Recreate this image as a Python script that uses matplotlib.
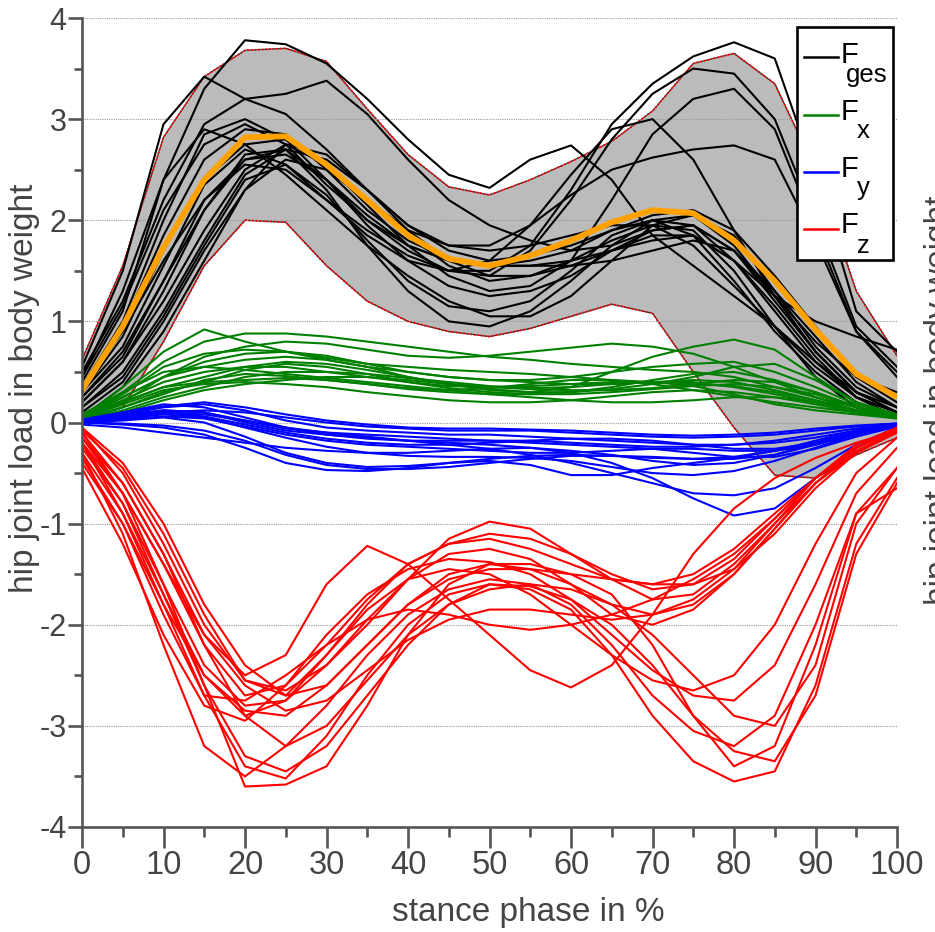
import numpy as np
import matplotlib
matplotlib.use("Agg")
import matplotlib.pyplot as plt
from matplotlib.ticker import MultipleLocator
from matplotlib.lines import Line2D
from matplotlib.patches import Rectangle

plt.rcParams['font.family'] = ['Liberation Sans', 'DejaVu Sans']

# ---------------- data (stance phase in %, every 5 %) ----------------
stance = [0, 5, 10, 15, 20, 25, 30, 35, 40, 45, 50, 55, 60, 65, 70, 75, 80, 85, 90, 95, 100]

mean_ges = [0.32, 0.95, 1.73, 2.40, 2.82, 2.83, 2.55, 2.20, 1.85, 1.62, 1.55, 1.65, 1.80, 1.98, 2.10, 2.07, 1.80, 1.40, 0.92, 0.48, 0.25]
band_upper = [0.62, 1.55, 2.82, 3.42, 3.68, 3.70, 3.57, 3.10, 2.65, 2.33, 2.25, 2.40, 2.58, 2.78, 3.08, 3.55, 3.65, 3.35, 2.50, 1.30, 0.66]
band_lower = [0.02, 0.15, 0.80, 1.55, 2.00, 1.98, 1.55, 1.20, 1.00, 0.90, 0.85, 0.93, 1.05, 1.17, 1.08, 0.50, -0.05, -0.52, -0.55, -0.32, -0.15]

f_ges = [
    [0.55, 1.50, 2.95, 3.42, 3.20, 3.25, 3.38, 3.05, 2.60, 2.20, 1.95, 1.80, 1.70, 1.75, 1.90, 1.95, 1.70, 1.25, 0.80, 0.45, 0.30],
    [0.40, 1.10, 2.40, 3.30, 3.78, 3.74, 3.55, 3.20, 2.80, 2.45, 2.32, 2.60, 2.74, 2.40, 1.85, 1.55, 1.25, 0.95, 0.60, 0.30, 0.15],
    [0.35, 0.90, 1.60, 2.20, 2.55, 2.50, 2.20, 1.90, 1.65, 1.50, 1.50, 1.75, 2.30, 2.95, 3.35, 3.62, 3.76, 3.60, 2.45, 1.10, 0.70],
    [0.25, 0.70, 1.40, 2.10, 2.60, 2.70, 2.40, 2.00, 1.70, 1.50, 1.45, 1.70, 2.20, 2.80, 3.25, 3.50, 3.45, 3.00, 2.00, 0.95, 0.55],
    [0.20, 0.60, 1.20, 1.90, 2.50, 2.75, 2.55, 2.15, 1.75, 1.45, 1.30, 1.35, 1.60, 2.20, 2.85, 3.20, 3.30, 2.90, 1.90, 0.90, 0.50],
    [0.30, 0.85, 1.70, 2.40, 2.75, 2.80, 2.55, 2.20, 1.90, 1.75, 1.75, 1.95, 2.25, 2.50, 2.62, 2.70, 2.74, 2.60, 1.80, 0.90, 0.45],
    [0.15, 0.50, 1.10, 1.80, 2.45, 2.70, 2.60, 2.30, 1.95, 1.70, 1.60, 1.65, 1.75, 1.90, 2.00, 1.95, 1.60, 1.10, 0.60, 0.25, 0.10],
    [0.10, 0.40, 1.00, 1.70, 2.30, 2.60, 2.50, 2.20, 1.85, 1.55, 1.40, 1.45, 1.60, 1.80, 1.95, 1.90, 1.50, 0.95, 0.45, 0.15, 0.05],
    [0.35, 1.00, 2.00, 2.85, 3.00, 2.80, 2.40, 1.95, 1.60, 1.35, 1.25, 1.30, 1.45, 1.70, 1.90, 1.95, 1.70, 1.20, 0.70, 0.30, 0.10],
    [0.45, 1.30, 2.40, 2.90, 2.75, 2.45, 2.10, 1.75, 1.45, 1.20, 1.05, 1.05, 1.25, 1.60, 1.95, 2.05, 1.85, 1.30, 0.75, 0.35, 0.15],
    [0.20, 0.60, 1.30, 2.10, 2.65, 2.70, 2.30, 1.75, 1.30, 1.00, 0.95, 1.10, 1.40, 1.75, 2.00, 2.05, 1.75, 1.25, 0.70, 0.30, 0.10],
    [0.05, 0.35, 0.90, 1.60, 2.30, 2.75, 2.65, 2.30, 1.90, 1.60, 1.45, 1.45, 1.55, 1.70, 1.85, 1.85, 1.60, 1.15, 0.65, 0.25, 0.05],
    [0.50, 1.20, 2.20, 2.95, 3.20, 3.05, 2.70, 2.30, 1.95, 1.75, 1.70, 1.75, 1.85, 1.95, 1.95, 1.75, 1.35, 0.95, 0.55, 0.25, 0.10],
    [0.30, 0.75, 1.55, 2.35, 2.70, 2.55, 2.20, 1.85, 1.60, 1.50, 1.60, 1.95, 2.45, 2.90, 3.00, 2.60, 1.90, 1.25, 0.70, 0.30, 0.10],
    [0.25, 0.65, 1.40, 2.20, 2.60, 2.65, 2.40, 2.05, 1.75, 1.60, 1.55, 1.55, 1.55, 1.60, 1.70, 1.80, 1.70, 1.30, 0.85, 0.40, 0.15],
    [0.15, 0.45, 1.05, 1.75, 2.40, 2.55, 2.25, 1.80, 1.40, 1.15, 1.10, 1.20, 1.50, 1.85, 2.00, 1.85, 1.40, 0.90, 0.50, 0.20, 0.05],
    [0.45, 1.15, 2.10, 2.75, 2.95, 2.75, 2.35, 2.00, 1.75, 1.60, 1.55, 1.55, 1.60, 1.70, 1.80, 1.85, 1.60, 1.25, 1.00, 0.85, 0.72],
    [0.35, 0.95, 1.85, 2.60, 2.90, 2.85, 2.50, 2.10, 1.80, 1.62, 1.55, 1.60, 1.70, 1.90, 2.05, 2.10, 1.90, 1.45, 0.95, 0.45, 0.20],
]

f_x = [
    [0.05, 0.35, 0.70, 0.92, 0.80, 0.70, 0.62, 0.55, 0.50, 0.45, 0.42, 0.40, 0.38, 0.38, 0.40, 0.42, 0.40, 0.32, 0.22, 0.12, 0.05],
    [0.05, 0.30, 0.60, 0.80, 0.88, 0.88, 0.85, 0.80, 0.75, 0.70, 0.65, 0.62, 0.58, 0.55, 0.52, 0.50, 0.45, 0.35, 0.25, 0.15, 0.08],
    [0.02, 0.20, 0.45, 0.65, 0.75, 0.80, 0.78, 0.72, 0.66, 0.64, 0.66, 0.70, 0.74, 0.78, 0.75, 0.68, 0.55, 0.40, 0.25, 0.12, 0.05],
    [0.05, 0.25, 0.45, 0.55, 0.62, 0.65, 0.62, 0.55, 0.45, 0.38, 0.33, 0.30, 0.35, 0.50, 0.65, 0.75, 0.82, 0.72, 0.45, 0.20, 0.08],
    [0.03, 0.20, 0.35, 0.45, 0.55, 0.60, 0.58, 0.52, 0.45, 0.38, 0.32, 0.30, 0.30, 0.33, 0.38, 0.45, 0.55, 0.58, 0.42, 0.20, 0.08],
    [0.08, 0.30, 0.50, 0.55, 0.52, 0.48, 0.44, 0.40, 0.36, 0.32, 0.28, 0.25, 0.22, 0.20, 0.20, 0.22, 0.25, 0.25, 0.20, 0.12, 0.05],
    [0.02, 0.12, 0.25, 0.35, 0.45, 0.50, 0.50, 0.48, 0.44, 0.40, 0.36, 0.34, 0.35, 0.38, 0.40, 0.40, 0.35, 0.28, 0.20, 0.12, 0.06],
    [0.05, 0.20, 0.35, 0.40, 0.42, 0.44, 0.42, 0.38, 0.33, 0.30, 0.28, 0.28, 0.30, 0.35, 0.42, 0.48, 0.50, 0.42, 0.30, 0.15, 0.06],
    [0.02, 0.15, 0.30, 0.40, 0.52, 0.58, 0.55, 0.48, 0.40, 0.34, 0.30, 0.28, 0.28, 0.30, 0.33, 0.36, 0.38, 0.35, 0.28, 0.15, 0.06],
    [0.04, 0.18, 0.32, 0.38, 0.40, 0.38, 0.35, 0.30, 0.26, 0.22, 0.20, 0.20, 0.22, 0.26, 0.30, 0.32, 0.30, 0.25, 0.18, 0.10, 0.04],
    [0.06, 0.25, 0.45, 0.60, 0.68, 0.70, 0.66, 0.58, 0.50, 0.45, 0.42, 0.42, 0.45, 0.50, 0.55, 0.58, 0.60, 0.50, 0.35, 0.18, 0.08],
    [0.03, 0.15, 0.28, 0.42, 0.48, 0.46, 0.42, 0.38, 0.34, 0.32, 0.34, 0.38, 0.42, 0.42, 0.38, 0.32, 0.26, 0.20, 0.15, 0.10, 0.05],
    [0.05, 0.22, 0.40, 0.50, 0.55, 0.55, 0.50, 0.45, 0.40, 0.36, 0.35, 0.36, 0.38, 0.40, 0.40, 0.36, 0.28, 0.18, 0.12, 0.08, 0.04],
    [0.02, 0.10, 0.22, 0.32, 0.38, 0.42, 0.45, 0.45, 0.42, 0.38, 0.35, 0.33, 0.32, 0.32, 0.34, 0.38, 0.42, 0.40, 0.30, 0.16, 0.06],
    [0.04, 0.28, 0.55, 0.68, 0.72, 0.70, 0.64, 0.58, 0.55, 0.52, 0.50, 0.48, 0.45, 0.42, 0.40, 0.38, 0.36, 0.30, 0.22, 0.12, 0.05],
]

f_y = [
    [0.02, 0.08, 0.12, 0.10, 0.00, -0.08, -0.12, -0.15, -0.18, -0.20, -0.22, -0.25, -0.30, -0.40, -0.55, -0.75, -0.92, -0.85, -0.55, -0.25, -0.05],
    [0.00, 0.05, 0.10, 0.08, 0.02, -0.05, -0.10, -0.14, -0.18, -0.22, -0.26, -0.32, -0.40, -0.50, -0.60, -0.70, -0.72, -0.65, -0.45, -0.22, -0.05],
    [0.00, -0.02, -0.05, -0.12, -0.25, -0.40, -0.47, -0.48, -0.45, -0.40, -0.38, -0.42, -0.52, -0.52, -0.45, -0.40, -0.35, -0.28, -0.20, -0.10, -0.02],
    [0.03, 0.10, 0.18, 0.15, 0.05, -0.05, -0.12, -0.16, -0.18, -0.18, -0.18, -0.18, -0.20, -0.22, -0.24, -0.24, -0.22, -0.18, -0.12, -0.06, -0.02],
    [0.02, 0.08, 0.15, 0.18, 0.12, 0.02, -0.05, -0.08, -0.10, -0.12, -0.12, -0.14, -0.16, -0.18, -0.20, -0.22, -0.22, -0.20, -0.15, -0.08, -0.02],
    [0.00, 0.02, 0.05, 0.00, -0.14, -0.30, -0.40, -0.44, -0.43, -0.40, -0.36, -0.33, -0.32, -0.33, -0.35, -0.36, -0.34, -0.28, -0.18, -0.08, -0.02],
    [0.01, 0.05, 0.10, 0.12, 0.10, 0.05, 0.00, -0.04, -0.06, -0.08, -0.08, -0.08, -0.10, -0.12, -0.14, -0.15, -0.14, -0.12, -0.08, -0.04, -0.01],
    [-0.02, -0.05, -0.10, -0.15, -0.20, -0.25, -0.28, -0.30, -0.30, -0.28, -0.26, -0.25, -0.28, -0.32, -0.38, -0.42, -0.40, -0.32, -0.20, -0.10, -0.03],
    [0.02, 0.06, 0.10, 0.06, -0.02, -0.10, -0.16, -0.20, -0.22, -0.22, -0.20, -0.18, -0.16, -0.16, -0.18, -0.22, -0.26, -0.26, -0.20, -0.10, -0.03],
    [0.00, 0.04, 0.08, 0.05, -0.05, -0.15, -0.24, -0.30, -0.33, -0.34, -0.34, -0.35, -0.38, -0.44, -0.50, -0.52, -0.48, -0.38, -0.25, -0.12, -0.03],
    [0.02, 0.10, 0.16, 0.20, 0.15, 0.08, 0.02, -0.02, -0.05, -0.06, -0.06, -0.07, -0.08, -0.10, -0.12, -0.13, -0.12, -0.10, -0.06, -0.03, -0.01],
    [0.00, 0.03, 0.06, 0.04, -0.04, -0.12, -0.18, -0.22, -0.24, -0.26, -0.28, -0.30, -0.30, -0.28, -0.26, -0.26, -0.28, -0.28, -0.22, -0.12, -0.04],
    [0.01, 0.06, 0.12, 0.10, 0.02, -0.06, -0.10, -0.12, -0.14, -0.16, -0.18, -0.20, -0.22, -0.24, -0.26, -0.30, -0.34, -0.34, -0.26, -0.14, -0.04],
    [0.00, -0.01, -0.03, -0.08, -0.18, -0.32, -0.42, -0.46, -0.46, -0.44, -0.40, -0.36, -0.33, -0.33, -0.34, -0.36, -0.36, -0.32, -0.22, -0.10, -0.03],
]

f_z = [
    [-0.10, -0.70, -1.60, -2.60, -3.60, -3.58, -3.40, -2.80, -2.10, -1.60, -1.40, -1.40, -1.50, -1.70, -2.20, -2.90, -3.40, -3.20, -2.20, -0.90, -0.45],
    [-0.20, -0.90, -1.80, -2.70, -3.40, -3.52, -3.10, -2.50, -2.00, -1.70, -1.60, -1.65, -1.85, -2.30, -2.90, -3.35, -3.55, -3.45, -2.60, -1.20, -0.55],
    [-0.30, -1.10, -2.20, -3.20, -3.50, -3.20, -2.80, -2.30, -1.90, -1.65, -1.55, -1.60, -1.80, -2.20, -2.70, -3.05, -3.20, -2.90, -2.00, -0.90, -0.65],
    [-0.05, -0.50, -1.20, -2.00, -2.55, -2.65, -2.40, -2.00, -1.55, -1.15, -0.98, -1.05, -1.30, -1.55, -1.75, -1.70, -1.40, -1.00, -0.60, -0.30, -0.10],
    [-0.15, -0.70, -1.40, -2.20, -2.70, -2.60, -2.20, -1.75, -1.40, -1.20, -1.10, -1.15, -1.30, -1.50, -1.65, -1.60, -1.35, -0.95, -0.55, -0.25, -0.08],
    [-0.25, -0.80, -1.60, -2.40, -2.80, -2.75, -2.40, -1.95, -1.55, -1.30, -1.25, -1.35, -1.60, -1.90, -2.00, -1.85, -1.50, -1.05, -0.60, -0.25, -0.05],
    [-0.40, -1.00, -1.80, -2.50, -2.85, -2.90, -2.60, -2.20, -1.80, -1.50, -1.40, -1.45, -1.60, -1.80, -1.90, -1.80, -1.50, -1.05, -0.60, -0.28, -0.10],
    [-0.10, -0.60, -1.30, -2.10, -2.60, -2.85, -2.75, -2.45, -2.15, -1.95, -1.85, -1.85, -1.90, -1.95, -1.90, -1.75, -1.45, -1.00, -0.55, -0.22, -0.05],
    [-0.20, -0.70, -1.40, -2.10, -2.50, -2.30, -1.60, -1.22, -1.40, -1.75, -2.10, -2.45, -2.62, -2.40, -1.90, -1.30, -0.85, -0.55, -0.35, -0.20, -0.08],
    [-0.08, -0.45, -1.10, -1.90, -2.55, -2.70, -2.30, -1.80, -1.40, -1.20, -1.15, -1.25, -1.40, -1.55, -1.60, -1.50, -1.25, -0.90, -0.55, -0.25, -0.08],
    [-0.30, -0.90, -1.70, -2.50, -2.90, -2.75, -2.30, -1.85, -1.55, -1.45, -1.50, -1.70, -2.00, -2.30, -2.55, -2.65, -2.50, -2.00, -1.20, -0.50, -0.15],
    [-0.45, -1.20, -2.10, -2.80, -2.95, -2.60, -2.10, -1.70, -1.45, -1.35, -1.38, -1.50, -1.75, -2.10, -2.45, -2.70, -2.75, -2.40, -1.60, -0.70, -0.25],
    [-0.15, -0.60, -1.30, -2.20, -2.90, -3.20, -3.00, -2.55, -2.10, -1.80, -1.65, -1.60, -1.65, -1.80, -2.10, -2.50, -2.90, -3.00, -2.40, -1.00, -0.45],
    [-0.05, -0.40, -1.00, -1.80, -2.40, -2.70, -2.60, -2.20, -1.80, -1.55, -1.45, -1.45, -1.50, -1.55, -1.60, -1.60, -1.45, -1.10, -0.65, -0.30, -0.08],
    [-0.35, -1.00, -1.90, -2.70, -2.75, -2.50, -2.20, -1.95, -1.85, -1.90, -2.00, -2.05, -2.00, -1.90, -1.75, -1.55, -1.30, -0.95, -0.55, -0.25, -0.08],
    [-0.20, -0.80, -1.70, -2.60, -3.30, -3.45, -3.20, -2.70, -2.20, -1.80, -1.60, -1.62, -1.75, -2.00, -2.40, -2.90, -3.25, -3.35, -2.70, -1.30, -0.60],
]

legend_main = ['F', 'F', 'F', 'F']
legend_sub = ['ges', 'x', 'y', 'z']
group_colors = ['#000000', '#008000', '#0000ff', '#ff0000']
ylabel_text = 'hip joint load in body weight'
xlabel_text = 'stance phase in %'

# ---------------- figure ----------------
W, H = 935, 932
fig = plt.figure(figsize=(W / 100, H / 100), dpi=100)
ax = fig.add_axes([82 / W, 1 - 827 / H, (897 - 82) / W, (827 - 18) / H])


def fx(px):
    return px / W


def fy(py):
    return 1 - py / H


TXT = '#444444'
AX = '#555555'

ax.fill_between(stance, band_lower, band_upper, color='#bbbbbb', lw=0, zorder=1)
ax.plot(stance, band_upper, color='#333333', lw=0.9, zorder=1.5)
ax.plot(stance, band_lower, color='#333333', lw=0.9, zorder=1.5)
ax.plot(stance, band_upper, color='#ff0000', lw=1.3, ls=(0, (1, 1)), zorder=1.6)
ax.plot(stance, band_lower, color='#ff0000', lw=1.3, ls=(0, (1, 1)), zorder=1.6)

for grp, col, z in [(f_ges, group_colors[0], 3), (f_x, group_colors[1], 4),
                    (f_y, group_colors[2], 5), (f_z, group_colors[3], 6)]:
    for curve in grp:
        ax.plot(stance, curve, color=col, lw=1.5, zorder=z, solid_joinstyle='round')

ax.plot(stance, mean_ges, color='#ffa200', lw=4.2, zorder=7, solid_capstyle='butt',
        solid_joinstyle='round')

ax.set_xlim(0, 100)
ax.set_ylim(-4, 4)
ax.xaxis.set_major_locator(MultipleLocator(10))
ax.xaxis.set_minor_locator(MultipleLocator(5))
ax.yaxis.set_major_locator(MultipleLocator(1))
ax.yaxis.set_minor_locator(MultipleLocator(0.5))
ax.grid(axis='y', which='major', color='#999999', ls=(0, (1, 1)), lw=0.8, zorder=0)

for s in ['top', 'right']:
    ax.spines[s].set_visible(False)
for s in ['left', 'bottom']:
    ax.spines[s].set_color(AX)
    ax.spines[s].set_linewidth(1.9)
    ax.spines[s].set_zorder(8)

ax.tick_params(axis='x', which='major', direction='out', length=15, width=1.9, color=AX,
               labelsize=23.5, labelcolor=TXT, pad=1.5)
ax.tick_params(axis='x', which='minor', direction='out', length=7, width=1.9, color=AX)
ax.tick_params(axis='y', which='major', direction='out', length=10, width=1.9, color=AX,
               labelsize=22, labelcolor=TXT, pad=1)
ax.tick_params(axis='y', which='minor', direction='out', length=5.5, width=1.9, color=AX)

yt = [-4, -3, -2, -1, 0, 1, 2, 3, 4]
ax.set_yticks(yt)
ax.set_yticklabels([str(v) for v in yt])

ax.set_xlabel(xlabel_text, fontsize=24, color=TXT)
ax.xaxis.set_label_coords((528 - 82) / (897 - 82), -(912 - 827) / (827 - 18), transform=ax.transAxes)
ax.xaxis.label.set_va('center')
ax.set_ylabel(ylabel_text, fontsize=24, color=TXT)
ax.yaxis.set_label_coords(-(82 - 25) / (897 - 82), (827 - 388) / (827 - 18), transform=ax.transAxes)
ax.yaxis.label.set_va('center')

fig.text(fx(924), fy(400), ylabel_text, rotation=90, fontsize=24, color=TXT,
         ha='left', va='center')

# ---------------- legend (box, short line samples, F with index below) ----------------
box = Rectangle((fx(797), fy(260)), fx(893) - fx(797), fy(27) - fy(260),
                transform=fig.transFigure, facecolor='white', edgecolor='black',
                lw=1.9, zorder=20)
fig.add_artist(box)
handle_y = [57, 115, 172, 229]
main_base = [63, 120, 177, 233]
sub_base = [82, 138, 195, 253]
sub_x = [846, 857, 857, 857]
for i in range(4):
    fig.add_artist(Line2D([fx(804), fx(838)], [fy(handle_y[i])] * 2, transform=fig.transFigure,
                          color=group_colors[i], lw=1.8, zorder=21))
    fig.text(fx(841), fy(main_base[i]), legend_main[i], fontsize=21, color='black',
             ha='left', va='baseline', zorder=22)
    fig.text(fx(sub_x[i]), fy(sub_base[i]), legend_sub[i], fontsize=18.5, color='black',
             ha='left', va='baseline', zorder=22)

fig.savefig('out.png', dpi=100)
